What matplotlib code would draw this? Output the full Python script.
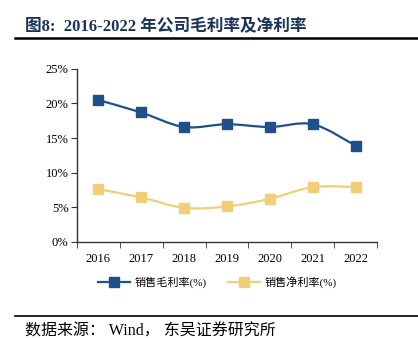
import matplotlib.pyplot as plt
import numpy as np
from matplotlib.path import Path
from matplotlib.patches import PathPatch
from matplotlib.lines import Line2D

years = ['2016', '2017', '2018', '2019', '2020', '2021', '2022']
gross_margin = [20.5, 18.7, 16.6, 17.0, 16.6, 17.0, 13.9]
net_margin = [7.6, 6.4, 4.9, 5.1, 6.2, 7.9, 7.9]

blue = '#1F5089'
yellow = '#F0CF78'
serif_cjk = ['Liberation Serif', 'Noto Sans CJK SC']


def smooth_path(x, y, t=0.5):
    # catmull-rom style curve through the points, as cubic beziers
    x = np.asarray(x, float)
    y = np.asarray(y, float)
    verts = [(x[0], y[0])]
    codes = [Path.MOVETO]
    n = len(x)
    for i in range(n - 1):
        x0, y0 = (x[i - 1], y[i - 1]) if i > 0 else (x[i], y[i])
        x3, y3 = (x[i + 2], y[i + 2]) if i + 2 < n else (x[i + 1], y[i + 1])
        c1 = (x[i] + (x[i + 1] - x0) * t / 3, y[i] + (y[i + 1] - y0) * t / 3)
        c2 = (x[i + 1] - (x3 - x[i]) * t / 3, y[i + 1] - (y3 - y[i]) * t / 3)
        verts += [c1, c2, (x[i + 1], y[i + 1])]
        codes += [Path.CURVE4] * 3
    return Path(verts, codes)


fig = plt.figure(figsize=(4.18, 3.38), dpi=100)
ax = fig.add_axes([0.184, 0.285, 0.718, 0.511])

xpos = np.arange(len(years))
for vals, col in [(gross_margin, blue), (net_margin, yellow)]:
    ax.add_patch(PathPatch(smooth_path(xpos, vals), fill=False, edgecolor=col, lw=1.6, zorder=2))
    ax.plot(xpos, vals, ls='none', marker='s', ms=6.5, color=col, zorder=3)

ax.set_xlim(-0.5, len(years) - 0.5)
ax.set_ylim(0, 25)
ax.set_yticks(range(0, 26, 5))
ax.set_yticklabels([f'{v}%' for v in range(0, 26, 5)], fontfamily='Liberation Serif', fontsize=9)
ax.set_xticks(xpos)
ax.set_xticklabels(years, fontfamily='Liberation Serif', fontsize=9)
ax.set_xticks(np.arange(-0.5, len(years)), minor=True)
ax.tick_params(axis='x', which='major', length=0, pad=8)
ax.tick_params(axis='x', which='minor', length=4, direction='out', color='#333333')
ax.tick_params(axis='y', length=4, color='#333333', pad=2)
for s in ['top', 'right']:
    ax.spines[s].set_visible(False)
for s in ['left', 'bottom']:
    ax.spines[s].set_color('#333333')
    ax.spines[s].set_linewidth(1.0)

handles = [Line2D([], [], color=blue, lw=1.6, marker='s', ms=6.5),
           Line2D([], [], color=yellow, lw=1.6, marker='s', ms=6.5)]
fig.legend(handles, ['销售毛利率(%)', '销售净利率(%)'], loc='center', bbox_to_anchor=(0.52, 0.165),
           ncol=2, frameon=False, handlelength=2.9, columnspacing=1.9, handletextpad=0.4,
           prop={'family': serif_cjk, 'size': 8})

fig.text(0.06, 0.92, '图8:  2016-2022 年公司毛利率及净利率', fontsize=12, fontweight='bold',
         color='#1B3358', family=serif_cjk, va='center')
fig.add_artist(Line2D([0.036, 1.0], [0.889, 0.889], color='black', lw=1.8))
fig.add_artist(Line2D([0.036, 1.0], [0.065, 0.065], color='black', lw=1.2))
fig.text(0.06, 0.02, '数据来源： Wind， 东吴证券研究所', fontsize=11.5, color='black',
         family=serif_cjk, va='center')

fig.savefig('out.png', dpi=100)
